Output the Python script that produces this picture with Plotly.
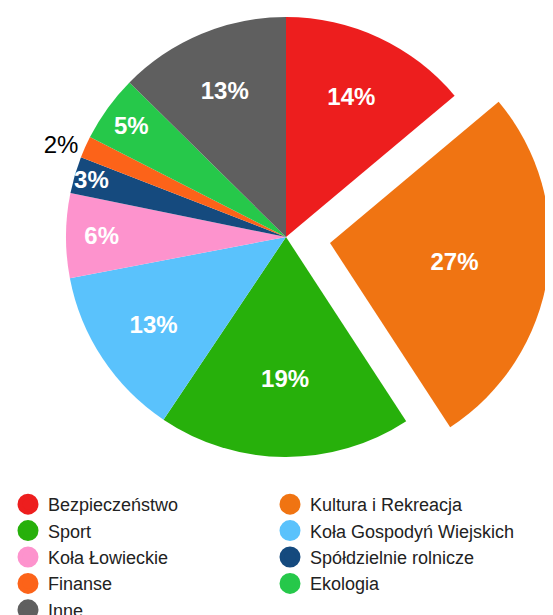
import plotly.graph_objects as go

# ---- data ----
categories = ["Bezpieczeństwo", "Kultura i Rekreacja", "Sport", "Koła Gospodyń Wiejskich",
              "Koła Łowieckie", "Spółdzielnie rolnicze", "Finanse", "Ekologia", "Inne"]
shares = [13.9, 26.9, 18.6, 12.6, 6.2, 2.7, 1.6, 4.9, 12.6]
colors = ["#ED1E1E", "#F07412", "#27B00B", "#5AC2FC", "#FD93CD",
          "#154A7E", "#FC6319", "#26C84A", "#5F5F5F"]
exploded = "Kultura i Rekreacja"
outside_label = "Finanse"

# ---- layout geometry (pixels, page coordinates) ----
PAGE_OFF = 8                      # default body margin of the html page
W, H = 553 - PAGE_OFF, 615 - PAGE_OFF
CX, CY, R = 286 - PAGE_OFF, 237 - PAGE_OFF, 220   # pie centre and radius
PULL_DX, PULL_DY = 44, 6          # offset of the exploded slice

def domain(cx, cy, r):
    return dict(x=[(cx - r) / W, (cx + r) / W],
                y=[(H - (cy + r)) / H, (H - (cy - r)) / H])

FONT = "Liberation Sans, Arial, Helvetica, sans-serif"

def textpos(show):
    return ["outside" if (c == outside_label and s) else ("inside" if s else "none")
            for c, s in zip(categories, show)]

main_show = [c != exploded for c in categories]
pull_show = [c == exploded for c in categories]

fig = go.Figure()

common = dict(labels=categories, values=shares, sort=False, direction="clockwise",
              rotation=0, texttemplate="%{percent:.0%}",
              insidetextorientation="horizontal",
              insidetextfont=dict(color="white", size=24, family=FONT, weight="bold"),
              outsidetextfont=dict(color="black", size=24, family=FONT),
              showlegend=False, hoverinfo="label+percent")

# main pie (exploded slice left transparent)
fig.add_trace(go.Pie(
    marker=dict(colors=[col if s else "rgba(0,0,0,0)" for col, s in zip(colors, main_show)],
                line=dict(width=0)),
    textposition=textpos(main_show), domain=domain(CX, CY, R), **common))
# exploded slice
fig.add_trace(go.Pie(
    marker=dict(colors=[col if s else "rgba(0,0,0,0)" for col, s in zip(colors, pull_show)],
                line=dict(width=0)),
    textposition=textpos(pull_show), domain=domain(CX + PULL_DX, CY + PULL_DY, R), **common))

# legend entries (circle symbols)
for c, col in zip(categories, colors):
    fig.add_trace(go.Scatter(x=[None], y=[None], mode="markers", name=c,
                             marker=dict(size=16, color=col, line=dict(width=5, color=col))))

fig.update_layout(
    width=W, height=H,
    margin=dict(l=0, r=0, t=0, b=0, autoexpand=False),
    paper_bgcolor="white", plot_bgcolor="white",
    xaxis=dict(visible=False), yaxis=dict(visible=False),
    uniformtext=dict(minsize=24, mode="show"),
    font=dict(family=FONT, color="#222"),
    legend=dict(orientation="h", x=0.0, xanchor="left",
                y=(H - 478) / H, yanchor="top",
                font=dict(size=18, color="#222", family=FONT),
                entrywidth=217, entrywidthmode="pixels", traceorder="normal",
                bgcolor="rgba(0,0,0,0)"),
)

fig.write_html("out.html")
